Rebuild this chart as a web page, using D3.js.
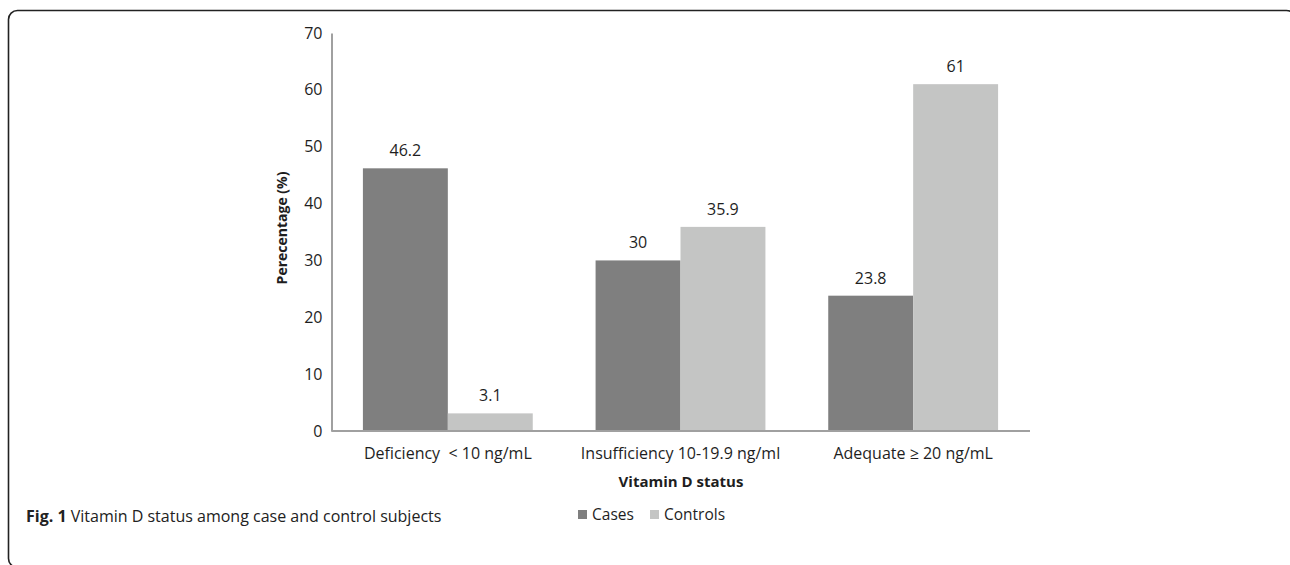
<!DOCTYPE html>
<html><head><meta charset="utf-8">
<script src="https://cdn.jsdelivr.net/npm/d3@7"></script>
<style>html,body{margin:0;padding:0;background:#fff;overflow:hidden}svg{display:block}</style>
</head><body><svg id="c" width="1290" height="565"></svg>
<script>
const categories = ["Deficiency  < 10 ng/mL", "Insufficiency 10-19.9 ng/ml", "Adequate \u2265 20 ng/mL"];
const seriesNames = ["Cases", "Controls"];
const cases = [46.2, 30, 23.8];
const controls = [3.1, 35.9, 61];
const yTicks = [0, 10, 20, 30, 40, 50, 60, 70];
const colors = ["#7f7f7f", "#c4c5c4"];

const svg = d3.select("#c");
const font = "'Open Sans', sans-serif";
const ink = "#1e1e1e";

// frame
svg.append("rect").attr("x", 8.5).attr("y", 10.5).attr("width", 1287).attr("height", 557)
  .attr("rx", 9).attr("fill", "none").attr("stroke", "#222").attr("stroke-width", 1.6);

const plotL = 331.5, plotR = 1030, plotT = 33, plotB = 431;
const y = d3.scaleLinear().domain([0, 70]).range([plotB, plotT]);
const x0 = d3.scaleBand().domain(categories).range([plotL, 1029.5]).paddingInner(0.27).paddingOuter(0.135);
const x1 = d3.scaleBand().domain(seriesNames).range([0, x0.bandwidth()]);

const data = categories.map((c, i) => ({cat: c, vals: [cases[i], controls[i]]}));

const g = svg.append("g");
const groups = g.selectAll("g.grp").data(data).join("g")
  .attr("transform", d => `translate(${x0(d.cat)},0)`);
groups.selectAll("rect").data(d => d.vals.map((v, j) => ({v, s: seriesNames[j], j})))
  .join("rect")
  .attr("x", d => x1(d.s)).attr("width", x1.bandwidth())
  .attr("y", d => y(d.v)).attr("height", d => y(0) - y(d.v))
  .attr("fill", d => colors[d.j]);
groups.selectAll("text").data(d => d.vals.map((v, j) => ({v, s: seriesNames[j], j})))
  .join("text")
  .attr("x", d => x1(d.s) + x1.bandwidth() / 2).attr("y", d => y(d.v) - 12)
  .attr("text-anchor", "middle").attr("font-family", font).attr("font-size", 16).attr("fill", ink)
  .text(d => d.v);

// y axis
const yAxis = d3.axisLeft(y).tickValues(yTicks).tickSize(0).tickPadding(9);
const ya = svg.append("g").attr("transform", `translate(${plotL},0)`).call(yAxis);
ya.select(".domain").attr("stroke", "#a0a0a0").attr("stroke-width", 2);
ya.selectAll("text").attr("font-family", font).attr("font-size", 16).attr("fill", ink);

// x axis
const xAxis = d3.axisBottom(x0).tickSize(0).tickPadding(16.5);
const xa = svg.append("g").attr("transform", `translate(0,${plotB})`).call(xAxis);
xa.select(".domain").attr("d", `M${plotL},0H${plotR}`).attr("stroke", "#a0a0a0").attr("stroke-width", 2);
xa.selectAll("text").attr("font-family", font).attr("font-size", 16).attr("fill", ink).style("white-space", "pre");

// axis titles
svg.append("text").attr("transform", "translate(287,228) rotate(-90)").attr("text-anchor", "middle")
  .attr("font-family", font).attr("font-size", 14).attr("font-weight", "bold").attr("fill", ink)
  .text("Perecentage (%)");
svg.append("text").attr("x", 681).attr("y", 487).attr("text-anchor", "middle")
  .attr("font-family", font).attr("font-size", 15).attr("font-weight", "bold").attr("fill", ink)
  .text("Vitamin D status");

// legend
const legX = [578, 650];
const lg = svg.append("g").selectAll("g").data(seriesNames).join("g")
  .attr("transform", (d, i) => `translate(${legX[i]},510)`);
lg.append("rect").attr("width", 9).attr("height", 9).attr("fill", (d, i) => colors[i]);
lg.append("text").attr("x", 14).attr("y", 9.5).attr("font-family", font).attr("font-size", 15.5).attr("fill", ink).text(d => d);

// caption
const cap = svg.append("text").attr("x", 26).attr("y", 522).attr("font-family", font).attr("font-size", 16).attr("fill", "#222");
cap.append("tspan").attr("font-weight", "bold").text("Fig. 1");
cap.append("tspan").text(" Vitamin D status among case and control subjects");
</script></body></html>
